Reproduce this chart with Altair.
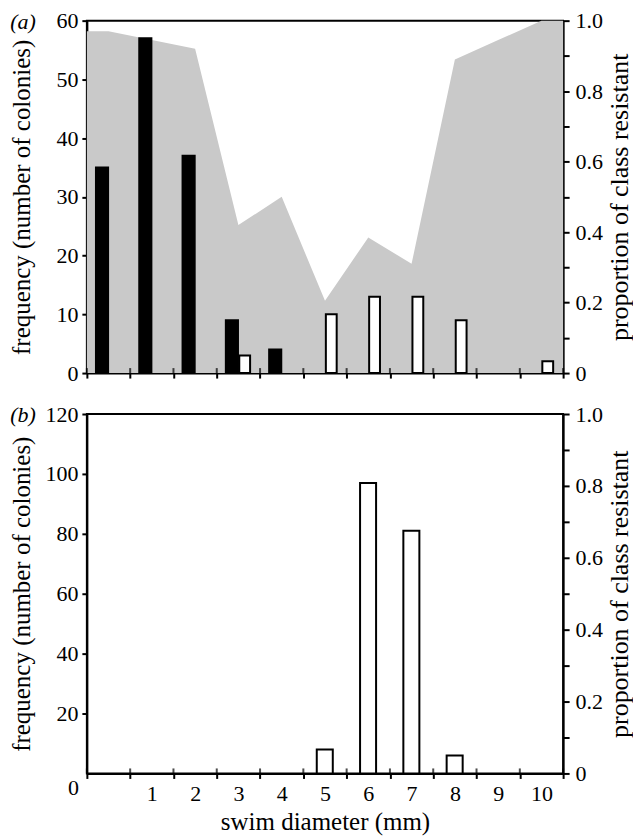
import altair as alt
import pandas as pd

# ---------------- data ----------------
# x: 11 size classes, class i spans [i, i+1] on the x scale
tick_values = list(range(12))

# panel (a)
res_a_bins = [0, 1, 2, 3, 4]
res_a_freq = [35, 57, 37, 9, 4]
sus_a_bins = [3, 5, 6, 7, 8, 10]
sus_a_freq = [3, 10, 13, 13, 9, 2]
prop_a_bins = [0, 1, 2, 3, 4, 5, 6, 7, 8, 9, 10]
prop_a = [0.97, 0.945, 0.92, 0.42, 0.50, 0.205, 0.385, 0.31, 0.89, 0.945, 1.0]

# panel (b)
sus_b_bins = [5, 6, 7, 8]
sus_b_freq = [8, 97, 81, 6]
prop_b_bins = [5, 6, 7, 8]
prop_b = [0, 0, 0, 0]

FONT = "Liberation Serif, Times New Roman, DejaVu Serif, serif"
TICK_FS = 22
TITLE_FS = 25
W, HA, HB = 477, 353, 360
GREY = "#c9c9c9"


def bars_frame(res_bins, res_freq, sus_bins, sus_freq, grouped):
    rows = []
    for b, f in zip(res_bins, res_freq):
        rows.append({"bin": b, "freq": f, "kind": "resistant"})
    for b, f in zip(sus_bins, sus_freq):
        rows.append({"bin": b, "freq": f, "kind": "susceptible"})
    df = pd.DataFrame(rows)
    if grouped:
        left = df["kind"].map({"resistant": 0.21, "susceptible": 0.52})
        right = df["kind"].map({"resistant": 0.49, "susceptible": 0.77})
    else:
        left = 0.31
        right = 0.68
    df["x0"] = df["bin"] + left
    df["x1"] = df["bin"] + right
    return df


def area_frame(bins, props):
    xs = [bins[0]] + [b + 0.5 for b in bins] + [bins[-1] + 1]
    ps = [props[0]] + list(props) + [props[-1]]
    return pd.DataFrame({"x": xs, "p": ps})


def panel(bars_df, area_df, ymax, yvals, H, bottom, tag):
    xscale = alt.Scale(domain=[0, 11], nice=False, zero=False)
    if bottom:
        xaxis = alt.Axis(
            values=tick_values,
            labelExpr="datum.value <= 10 ? toString(datum.value) : ''",
            labelOffset={"condition": {"test": "datum.value == 0", "value": -14}, "value": 21.7},
            labelPadding={"condition": {"test": "datum.value == 0", "value": -1}, "value": 5},
            labelAlign="center",
            labelBaseline="top",
            title="swim diameter (mm)",
            titlePadding=5,
            titleFontSize=TITLE_FS,
        )
    else:
        xaxis = alt.Axis(values=tick_values, labels=False, title=None)

    right_axis = alt.Axis(
        orient="right",
        values=[round(i * 0.1, 1) for i in range(11)],
        labelExpr="datum.value == 0 ? '0' : (round(datum.value * 10) % 2 == 1 ? '' : format(datum.value, '.1f'))",
        tickSize=6,
        labelPadding=6,
        title="proportion of class resistant",
        titleAngle=270,
        titleBaseline="middle",
        titleX=56,
        titleFontSize=26,
    )
    left_axis = alt.Axis(
        orient="left",
        values=yvals,
        tickSize=5,
        labelPadding=4,
        title="frequency (number of colonies)",
        titleAngle=270,
        titleBaseline="middle",
        titleX=-65,
        titleFontSize=TITLE_FS,
    )

    area = alt.Chart(area_df).mark_area(color=GREY, interpolate="linear").encode(
        x=alt.X("x:Q", scale=xscale, axis=xaxis),
        y=alt.Y("p:Q", scale=alt.Scale(domain=[0, 1], nice=False), axis=right_axis),
    )
    bars = alt.Chart(bars_df).mark_bar(stroke="black", strokeWidth=2).encode(
        x=alt.X("x0:Q", scale=xscale, axis=xaxis),
        x2="x1:Q",
        y=alt.Y("freq:Q", scale=alt.Scale(domain=[0, ymax], nice=False), axis=left_axis),
        y2=alt.datum(0),
        fill=alt.Fill(
            "kind:N",
            scale=alt.Scale(domain=["resistant", "susceptible"], range=["black", "white"]),
            legend=None,
        ),
    )
    inner_ticks = alt.Chart(pd.DataFrame({"v": tick_values})).mark_tick(
        color="black", thickness=2, size=5
    ).encode(x=alt.X("v:Q", scale=xscale, axis=xaxis), y=alt.value(H - 2.5))
    label = alt.Chart(pd.DataFrame({"t": [tag]})).mark_text(
        font=FONT, fontSize=TICK_FS, fontStyle="italic", align="center", baseline="middle"
    ).encode(text="t:N", x=alt.value(-64), y=alt.value(1))
    return (
        alt.layer(area, bars, inner_ticks, label)
        .resolve_scale(y="independent")
        .properties(width=W, height=H)
    )


top = panel(
    bars_frame(res_a_bins, res_a_freq, sus_a_bins, sus_a_freq, True),
    area_frame(prop_a_bins, prop_a),
    60, list(range(0, 61, 10)), HA, False, "(a)",
)
bot = panel(
    bars_frame([], [], sus_b_bins, sus_b_freq, False),
    area_frame(prop_b_bins, prop_b),
    120, list(range(20, 121, 20)), HB, True, "(b)",
)

chart = (
    alt.vconcat(top, bot, spacing=17)
    .properties(padding={"left": 0, "top": 0, "right": 0, "bottom": 0})
    .configure_view(stroke="black", strokeWidth=2)
    .configure_axis(
        labelFont=FONT,
        titleFont=FONT,
        labelFontSize=TICK_FS,
        titleFontSize=TITLE_FS,
        titleFontWeight="normal",
        labelColor="black",
        titleColor="black",
        domainColor="black",
        domainWidth=2,
        tickColor="black",
        tickWidth=2,
        tickSize=5,
        grid=False,
    )
)

chart.save("out.html", embed_options={"renderer": "svg", "actions": False})
